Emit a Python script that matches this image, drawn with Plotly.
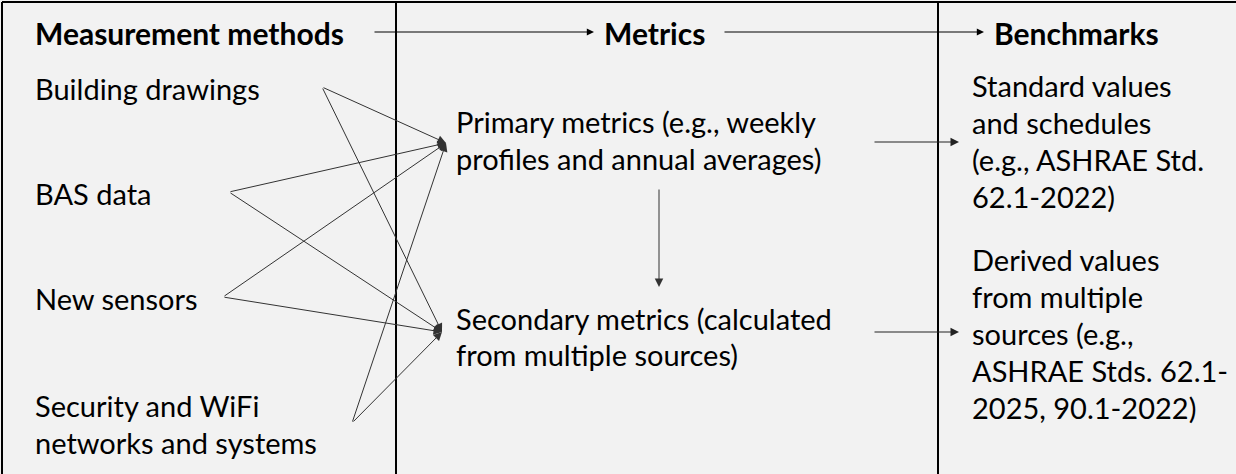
import plotly.graph_objects as go

W, H = 1236, 474
FONT = "Lato, Carlito, Calibri, sans-serif"
FS = 29
FSB = 30
BG = "#f2f2f2"

# Column headers
headers = ["Measurement methods", "Metrics", "Benchmarks"]
header_x = [36, 605, 995]
header_y = 33

# Measurement methods (left column)
methods = ["Building drawings", "BAS data", "New sensors", "Security and WiFi", "networks and systems"]
methods_y = [88, 193, 298, 405, 442]
methods_x = 36

# Method link anchor points (where the lines start)
src_pts = [(322, 87), (229, 192), (223, 297), (352, 423)]

# Metrics (middle column)
metrics = ["Primary metrics (e.g., weekly", "profiles and annual averages)",
           "Secondary metrics (calculated", "from multiple sources)"]
metrics_y = [121, 158, 318, 354]
metrics_x = 457
targets = [(446, 143), (442, 332)]

# Benchmarks (right column)
bench = ["Standard values", "and schedules", "(e.g., ASHRAE Std.", "62.1-2022)",
         "Derived values", "from multiple", "sources (e.g.,", "ASHRAE Stds. 62.1-", "2025, 90.1-2022)"]
bench_y = [85, 122, 159, 196, 259, 296, 333, 370, 407]
bench_x = 973

dividers = [396, 938]

fig = go.Figure()
fig.add_trace(go.Scatter(x=[0, W], y=[0, H], mode="markers", marker=dict(opacity=0), hoverinfo="skip", showlegend=False))

shapes = []
# outer border (top and left)
shapes.append(dict(type="line", x0=2, y0=2, x1=W, y1=2, line=dict(color="black", width=2)))
shapes.append(dict(type="line", x0=2, y0=2, x1=2, y1=H, line=dict(color="black", width=2)))
for dx in dividers:
    shapes.append(dict(type="line", x0=dx, y0=2, x1=dx, y1=H, line=dict(color="black", width=2)))

ann = []

def arrow(x0, y0, x1, y1, color="#222", width=1, size=1.3):
    ann.append(dict(x=x1, y=y1, ax=x0, ay=y0, xref="x", yref="y", axref="x", ayref="y",
                    text="", showarrow=True, arrowhead=2, arrowsize=size, arrowwidth=width,
                    arrowcolor=color, standoff=0, startstandoff=0))

def label(t, x, y, size):
    ann.append(dict(x=x, y=y, xref="x", yref="y", text=t, showarrow=False, xshift=-3,
                    xanchor="left", yanchor="middle", font=dict(family=FONT, size=size, color="black")))

for t, x in zip(headers, header_x):
    label(f"<b>{t}</b>", x, header_y, FSB)
for t, y in zip(methods, methods_y):
    label(t, methods_x, y, FS)
for t, y in zip(metrics, metrics_y):
    label(t, metrics_x, y, FS)
for t, y in zip(bench, bench_y):
    label(t, bench_x, y, FS)

# header flow arrows
arrow(373, 32, 594, 32, color="black", width=1.2, size=1.2)
arrow(723, 32, 984, 32, color="black", width=1.2, size=1.2)

# links from each method to both metric types
for (sx, sy) in src_pts:
    for (tx, ty) in targets:
        arrow(sx, sy, tx, ty, color="#333", width=1, size=1.7)

# primary -> secondary
arrow(659, 188, 659, 287, color="#333", width=1, size=1.7)
# metrics -> benchmarks
arrow(873, 142, 959, 142, color="#222", width=1, size=1.7)
arrow(873, 332, 959, 332, color="#222", width=1, size=1.7)

fig.update_layout(
    width=W, height=H, margin=dict(l=0, r=0, t=0, b=0),
    paper_bgcolor=BG, plot_bgcolor=BG, showlegend=False,
    xaxis=dict(range=[0, W], visible=False, fixedrange=True),
    yaxis=dict(range=[H, 0], visible=False, fixedrange=True),
    shapes=shapes, annotations=ann,
)
fig.write_html("out.html", config={"displayModeBar": False},
               post_script="document.body.style.margin='0';document.body.style.overflow='hidden';")
